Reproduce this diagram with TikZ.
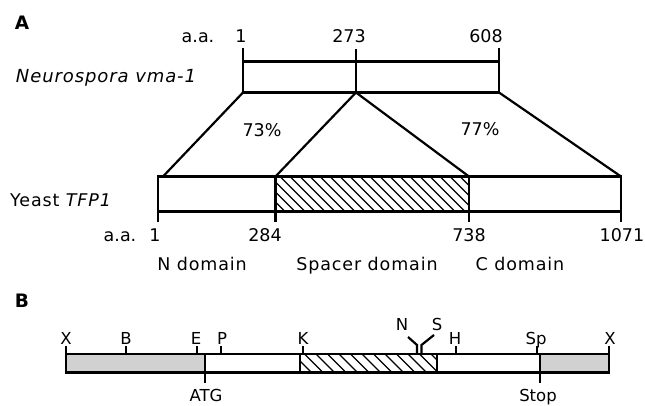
\documentclass[tikz,border=0pt]{standalone}
\usepackage{fontspec}
\setmainfont{DejaVu Sans}
\newfontfamily\widefont{DejaVu Sans}[LetterSpace=5]
\begin{document}
\begin{tikzpicture}[x=1pt,y=-1pt,
  lbl/.style={inner sep=0pt, anchor=base, font=\fontsize{17.5}{20}\selectfont},
  lblw/.style={inner sep=0pt, anchor=base, font=\widefont\fontsize{17.5}{20}\selectfont},
  lblb/.style={inner sep=0pt, anchor=base, font=\fontsize{16.5}{19}\selectfont},
  hd/.style={inner sep=0pt, anchor=base, font=\fontsize{18.5}{21}\selectfont\bfseries},
  outl/.style={line width=2.8pt},
  diag/.style={line width=2.2pt},
  tickln/.style={line width=2.2pt},
  hatchln/.style={line width=1.1pt},
  stip/.style={fill=black!18},
  line join=miter]
\useasboundingbox (0,0) rectangle (645,406);

% ---------- Part A ----------
\node[hd] (labA) at (22,30) {A};

% Neurospora box
\coordinate (NtL) at (243,61.5);
\coordinate (NbL) at (243,92.5);
\coordinate (NtM) at (356,61.5);
\coordinate (NbM) at (356,92.5);
\coordinate (NtR) at (499,61.5);
\coordinate (NbR) at (499,92.5);
\coordinate (NkL) at (243,48);
\coordinate (NkM) at (356,49);
\coordinate (NkR) at (499,48);

\draw[outl] (NtL) rectangle (NbR);
\draw[tickln] (NkL) -- (NtL);
\draw[tickln] (NkR) -- (NtR);
\draw[tickln] (NkM) -- (NbM);

\node[lbl] (aaTop) at (198,43) {a.a.};
\node[lbl] (n1) at (241,43) {1};
\node[lbl] (n273) at (349,43) {273};
\node[lbl] (n608) at (486,43) {608};
\node[lblw,font=\widefont\fontsize{18}{21}\selectfont\itshape] (neuro) at (106,83) {Neurospora vma-1};

% Yeast box
\coordinate (YtL) at (158,176.5);
\coordinate (YbL) at (158,211.5);
\coordinate (YtH1) at (275.5,176.5);
\coordinate (YbH1) at (275.5,211.5);
\coordinate (YtH2) at (469,176.5);
\coordinate (YbH2) at (469,211.5);
\coordinate (YtR) at (621,176.5);
\coordinate (YbR) at (621,211.5);
\coordinate (YL1) at (163,176.5);
\coordinate (YdL) at (158,222.5);
\coordinate (YdH1) at (275.5,222.5);
\coordinate (YdH2) at (469,222.5);
\coordinate (YdR) at (621,222.5);

\begin{scope}
  \clip (YtH1) rectangle (YbH2);
  \foreach \x in {230,240,...,480} \draw[hatchln] (\x,176.5) -- (\x+35,211.5);
\end{scope}

\draw[diag] (NbL) -- (YL1);
\draw[diag] (NbM) -- (YtH1);
\draw[diag] (NbM) -- (YtH2);
\draw[diag] (NbR) -- (YtR);

\draw[outl] (YtL) rectangle (YbR);
\draw[outl] (YtH1) -- (YbH1);
\draw[outl] (YtH2) -- (YbH2);
\draw[tickln] (YbL) -- (YdL);
\draw[tickln] (YbH1) -- (YdH1);
\draw[tickln] (YbH2) -- (YdH2);
\draw[tickln] (YbR) -- (YdR);

\node[lbl] (p73) at (262,137) {73\%};
\node[lbl] (p77) at (480,136) {77\%};
\node[lblw] (yeast) at (61,207) {Yeast \textit{TFP1}};

\node[lbl] (aaBot) at (120,241.5) {a.a.};
\node[lbl] (m1) at (155,241.5) {1};
\node[lbl] (m284) at (265,241.5) {284};
\node[lbl] (m738) at (469,241.5) {738};
\node[lbl] (m1071) at (622,241.5) {1071};

\node[lblw] (dN) at (202,270) {N domain};
\node[lblw] (dS) at (367,270) {Spacer domain};
\node[lblw] (dC) at (520,270) {C domain};

% ---------- Part B ----------
\node[hd] (labB) at (22,307) {B};

\coordinate (BtL) at (66,354);
\coordinate (BbR) at (609,372.5);
\coordinate (Bs1t) at (205,354);
\coordinate (Bs1b) at (205,383);
\coordinate (Bh1t) at (300,354);
\coordinate (Bh1b) at (300,372.5);
\coordinate (Bh2t) at (437,354);
\coordinate (Bh2b) at (437,372.5);
\coordinate (Bs2t) at (540,354);
\coordinate (Bs2b) at (540,383);

\fill[stip] (BtL) rectangle (205,372.5);
\fill[stip] (Bs2t) rectangle (BbR);
\begin{scope}
  \clip (Bh1t) rectangle (Bh2b);
  \foreach \x in {270,281.5,...,450} \draw[hatchln] (\x,354) -- (\x+18.5,372.5);
\end{scope}

\draw[outl] (BtL) rectangle (BbR);
\draw[outl] (Bs1t) -- (Bs1b);
\draw[outl] (Bh1t) -- (Bh1b);
\draw[outl] (Bh2t) -- (Bh2b);
\draw[outl] (Bs2t) -- (Bs2b);

\foreach \x/\nm in {66/kX1,126/kB,197/kE,221/kP,303/kK,456/kH,537/kSp,609/kX2}{
  \coordinate (\nm b) at (\x,354);
  \coordinate (\nm t) at (\x,346);
  \draw[tickln] (\nm b) -- (\nm t);
}

\coordinate (fNb) at (417,354);
\coordinate (fNm) at (417,345);
\coordinate (fNt) at (408,337);
\coordinate (fSb) at (421.5,354);
\coordinate (fSm) at (421.5,345);
\coordinate (fSt) at (434,335);
\draw[tickln] (fNb) -- (fNm) -- (fNt);
\draw[tickln] (fSb) -- (fSm) -- (fSt);

\node[lblb] (tX1) at (66,344) {X};
\node[lblb] (tB) at (126,344) {B};
\node[lblb] (tE) at (196,344) {E};
\node[lblb] (tP) at (222,344) {P};
\node[lblb] (tK) at (303,344) {K};
\node[lblb] (tH) at (455,344) {H};
\node[lblb] (tSp) at (536,344) {Sp};
\node[lblb] (tX2) at (610,344) {X};
\node[lblb] (tN) at (402,330) {N};
\node[lblb] (tS) at (437,330) {S};
\node[lblb] (tATG) at (206,401.5) {ATG};
\node[lblb] (tStop) at (538,401.5) {Stop};
\end{tikzpicture}
\end{document}
